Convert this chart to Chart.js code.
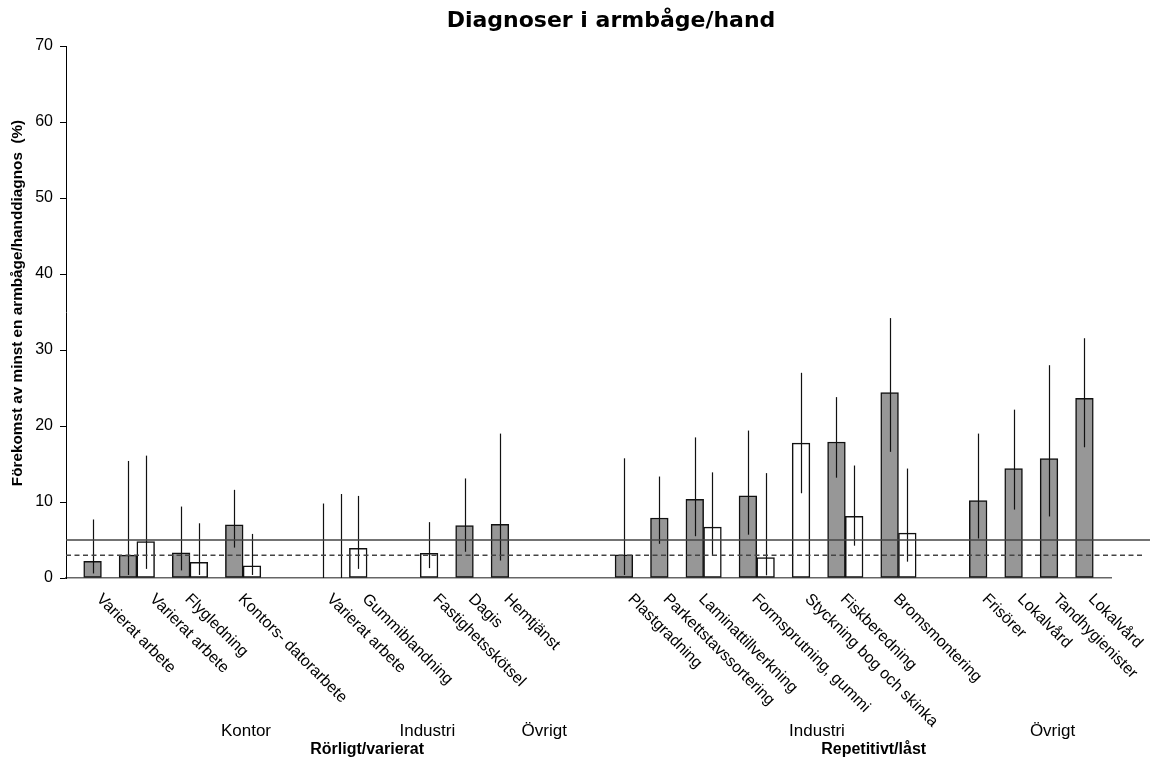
<!DOCTYPE html>
<html>
<head>
<meta charset="utf-8">
<script src="https://cdn.jsdelivr.net/npm/chart.js@4/dist/chart.umd.min.js"></script>
<style>
  html, body { margin: 0; padding: 0; background: #fff; }
  #wrap { width: 1153px; height: 760px; position: relative; }
</style>
</head>
<body>
<div id="wrap"><canvas id="c"></canvas></div>
<script>
// ---- DATA ----
const chartTitle = 'Diagnoser i armbåge/hand';
const yAxisTitle = 'Förekomst av minst en armbåge/handdiagnos  (%)';
const yTicks = [0, 10, 20, 30, 40, 50, 60, 70];

// 59 category slots; text only where a label is written
const categories = [
  '', 'Varierat arbete', '', '', 'Varierat arbete', '', 'Flygledning', '', '', 'Kontors- datorarbete',
  '', '', '', '', 'Varierat arbete', '', 'Gummiblandning', '', '', '',
  'Fastighetsskötsel', '', 'Dagis', '', 'Hemtjänst', '', '', '', '', '',
  '', 'Plastgradning', '', 'Parkettstavssortering', '', 'Laminattillverkning', '', '', 'Formsprutning, gummi', '',
  '', 'Styckning bog och skinka', '', 'Fiskberedning', '', '', 'Bromsmontering', '', '', '',
  '', 'Frisörer', '', 'Lokalvård', '', 'Tandhygienister', '', 'Lokalvård', ''
];

const grayValues = [
  null, 2.2, null, 3.0, null, null, 3.3, null, null, 7.0,
  null, null, null, null, null, null, null, null, null, null,
  null, null, 6.9, null, 7.05, null, null, null, null, null,
  null, 3.05, null, 7.9, null, 10.35, null, null, 10.8, null,
  null, null, null, 17.9, null, null, 24.4, null, null, null,
  null, 10.2, null, 14.4, null, 15.7, null, 23.65, null
];
const grayLow = [
  null, 0.6, null, 0.4, null, null, 1.0, null, null, 4.0,
  null, null, null, null, 0, null, null, null, null, null,
  null, null, 3.45, null, 2.3, null, null, null, null, null,
  null, 0.4, null, 4.5, null, 5.5, null, null, 5.7, null,
  null, null, null, 13.2, null, null, 16.6, null, null, null,
  null, 5.2, null, 9.0, null, 8.1, null, 17.2, null
];
const grayHigh = [
  null, 7.7, null, 15.4, null, null, 9.4, null, null, 11.6,
  null, null, null, null, 9.8, null, null, null, null, null,
  null, null, 13.1, null, 19.0, null, null, null, null, null,
  null, 15.75, null, 13.35, null, 18.5, null, null, 19.4, null,
  null, null, null, 23.8, null, null, 34.2, null, null, null,
  null, 19.0, null, 22.15, null, 28.0, null, 31.55, null
];

const whiteValues = [
  null, null, null, null, 4.8, null, null, 2.05, null, null,
  1.6, null, null, null, null, null, 3.9, null, null, null,
  3.25, null, null, null, null, null, null, null, null, null,
  null, null, null, null, null, null, 6.7, null, null, 2.7,
  null, 17.75, null, null, 8.1, null, null, 5.9, null, null,
  null, null, null, null, null, null, null, null, null
];
const whiteLow = [
  null, null, null, null, 1.2, null, null, 0.4, null, null,
  0.4, null, null, null, null, 0, 1.2, null, null, null,
  1.3, null, null, null, null, null, null, null, null, null,
  null, null, null, null, null, null, 2.9, null, null, 0.35,
  null, 11.15, null, null, 4.25, null, null, 2.15, null, null,
  null, null, null, null, null, null, null, null, null
];
const whiteHigh = [
  null, null, null, null, 16.1, null, null, 7.2, null, null,
  5.8, null, null, null, null, 11.05, 10.8, null, null, null,
  7.35, null, null, null, null, null, null, null, null, null,
  null, null, null, null, null, null, 13.9, null, null, 13.8,
  null, 27.0, null, null, 14.8, null, null, 14.4, null, null,
  null, null, null, null, null, null, null, null, null
];

const refSolid = 5;
const refDashed = 3;

const subGroupNames = ['Kontor', 'Industri', 'Övrigt', 'Industri', 'Övrigt'];
const subGroupAt = [9.66, 19.9, 26.5, 41.9, 55.2];
const mainGroupNames = ['Rörligt/varierat', 'Repetitivt/låst'];
const mainGroupAt = [16.5, 45.1];

// ---- STYLE ----
const FONT = '"Liberation Sans", Arial, sans-serif';

const decor = {
  id: 'decor',
  afterDatasetsDraw(chart) {
    const ctx = chart.ctx, xs = chart.scales.x, ys = chart.scales.y, ca = chart.chartArea;
    ctx.save();
    // error bars
    ctx.strokeStyle = '#111';
    ctx.lineWidth = 1.2;
    const drawErr = (lo, hi) => {
      for (let i = 0; i < categories.length; i++) {
        if (lo[i] == null || hi[i] == null) continue;
        const x = Math.round(xs.getPixelForValue(i)) + 0.5;
        ctx.beginPath();
        ctx.moveTo(x, ys.getPixelForValue(lo[i]));
        ctx.lineTo(x, ys.getPixelForValue(hi[i]));
        ctx.stroke();
      }
    };
    drawErr(grayLow, grayHigh);
    drawErr(whiteLow, whiteHigh);
    // reference lines
    ctx.strokeStyle = '#444';
    ctx.lineWidth = 1.6;
    let y = ys.getPixelForValue(refSolid);
    ctx.beginPath(); ctx.moveTo(ca.left, y); ctx.lineTo(ca.right + 39, y); ctx.stroke();
    y = ys.getPixelForValue(refDashed);
    ctx.setLineDash([5, 3.5]);
    ctx.beginPath(); ctx.moveTo(ca.left, y); ctx.lineTo(ca.right + 34, y); ctx.stroke();
    ctx.setLineDash([]);
    ctx.restore();
  },
  afterDraw(chart) {
    const ctx = chart.ctx, xs = chart.scales.x, ca = chart.chartArea;
    ctx.save();
    ctx.fillStyle = '#000';
    // rotated category labels
    ctx.font = '16px ' + FONT;
    ctx.textAlign = 'left';
    ctx.textBaseline = 'top';
    for (let i = 0; i < categories.length; i++) {
      if (!categories[i]) continue;
      const x = xs.getPixelForValue(i) + 12;
      ctx.save();
      ctx.translate(x, ca.bottom + 13);
      ctx.rotate(Math.PI / 4);
      ctx.fillText(categories[i], 0, 0);
      ctx.restore();
    }
    // group labels
    ctx.textAlign = 'center';
    ctx.textBaseline = 'alphabetic';
    ctx.font = '17px ' + FONT;
    subGroupNames.forEach((t, k) => ctx.fillText(t, xs.getPixelForValue(subGroupAt[k]), 736));
    ctx.font = 'bold 16px ' + FONT;
    mainGroupNames.forEach((t, k) => ctx.fillText(t, xs.getPixelForValue(mainGroupAt[k]), 754));
    // title
    ctx.font = 'bold 22px "DejaVu Sans", Verdana, sans-serif';
    ctx.textBaseline = 'middle';
    ctx.fillText(chartTitle, 611, 21);
    // y axis title
    ctx.save();
    ctx.translate(18, 303);
    ctx.rotate(-Math.PI / 2);
    ctx.font = 'bold 15.3px ' + FONT;
    ctx.textBaseline = 'middle';
    ctx.fillText(yAxisTitle, 0, 0);
    ctx.restore();
    ctx.restore();
  }
};

new Chart(document.getElementById('c'), {
  type: 'bar',
  data: {
    labels: categories,
    datasets: [
      { label: 'grå', data: grayValues, backgroundColor: '#979797', borderColor: '#111', borderWidth: 1.5, borderSkipped: false },
      { label: 'vit', data: whiteValues, backgroundColor: '#ffffff', borderColor: '#111', borderWidth: 1.5, borderSkipped: false }
    ]
  },
  options: {
    responsive: true,
    maintainAspectRatio: false,
    animation: false,
    grouped: false,
    barPercentage: 1,
    categoryPercentage: 1,
    layout: { padding: { top: 46, right: 42, left: 0, bottom: 0 } },
    plugins: { legend: { display: false }, title: { display: false }, tooltip: { enabled: false } },
    scales: {
      x: {
        type: 'category',
        ticks: { display: false },
        grid: { display: false },
        border: { display: true, color: '#666', width: 1.5 },
        afterFit(s) { s.height = 182; }
      },
      y: {
        min: 0, max: 70,
        afterBuildTicks(s) { s.ticks = yTicks.map(v => ({ value: v })); },
        ticks: { color: '#000', font: { family: FONT, size: 16 }, padding: 7 },
        grid: { display: true, drawOnChartArea: false, drawTicks: true, tickLength: 6, color: '#000' },
        border: { display: true, color: '#000', width: 1 },
        afterFit(s) { s.width = 66; }
      }
    }
  },
  plugins: [decor]
});
</script>
</body>
</html>
